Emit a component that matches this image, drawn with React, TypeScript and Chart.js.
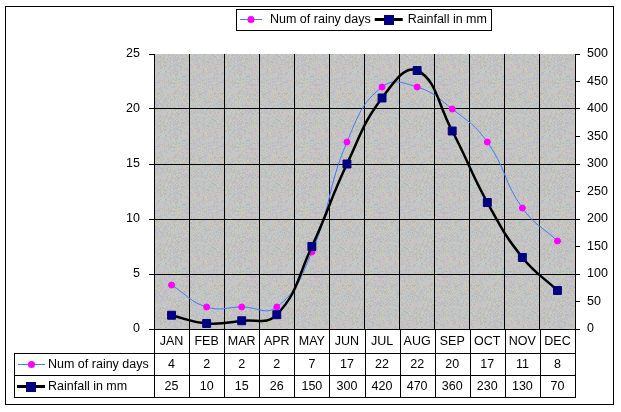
import React, { useEffect, useRef } from 'react';
import { Chart, registerables } from 'chart.js';

Chart.register(...registerables);

// ---- data ----
const months = ['JAN', 'FEB', 'MAR', 'APR', 'MAY', 'JUN', 'JUL', 'AUG', 'SEP', 'OCT', 'NOV', 'DEC'];
const rainyDays = [4, 2, 2, 2, 7, 17, 22, 22, 20, 17, 11, 8];
const rainfallMm = [25, 10, 15, 26, 150, 300, 420, 470, 360, 230, 130, 70];
const rainyLabel = 'Num of rainy days';
const rainfallLabel = 'Rainfall in mm';
const leftAxisMax = 25;
const leftAxisStep = 5;
const rightAxisMax = 500;
const rightAxisStep = 50;

const FONT_FAMILY = '"Liberation Sans", Arial, sans-serif';
const FONT_SIZE = 12.5;
const FONT = FONT_SIZE + 'px ' + FONT_FAMILY;
const BLUE = '#3d7bff';
const MAGENTA = '#ff00ff';
const NAVY = '#000080';

let patternCanvas: HTMLCanvasElement | null = null;
function hash(x: number, y: number) {
  let h = Math.imul(x + 1, 374761393) ^ Math.imul(y + 7, 668265263);
  h = Math.imul(h ^ (h >>> 13), 1274126177);
  h = h ^ (h >>> 16);
  return h >>> 0;
}
function getPatternCanvas() {
  if (patternCanvas) return patternCanvas;
  const S = 64;
  const c = document.createElement('canvas');
  c.width = S;
  c.height = S;
  const g = c.getContext('2d')!;
  const img = g.createImageData(S, S);
  const cols = [
    [206, 186, 204],
    [182, 204, 208],
    [204, 204, 178],
    [186, 186, 186],
  ];
  for (let y = 0; y < S; y++) {
    for (let x = 0; x < S; x++) {
      const col = cols[hash(x, y) % 4];
      const i = (y * S + x) * 4;
      img.data[i] = col[0];
      img.data[i + 1] = col[1];
      img.data[i + 2] = col[2];
      img.data[i + 3] = 255;
    }
  }
  g.putImageData(img, 0, 0);
  patternCanvas = c;
  return c;
}

const al = (v: number) => Math.round(v) + 0.5;

function drawCircleKey(ctx: CanvasRenderingContext2D, x1: number, x2: number, y: number) {
  ctx.strokeStyle = BLUE;
  ctx.lineWidth = 1;
  ctx.beginPath();
  ctx.moveTo(x1, y + 0.5);
  ctx.lineTo(x2, y + 0.5);
  ctx.stroke();
  ctx.fillStyle = MAGENTA;
  ctx.beginPath();
  ctx.arc((x1 + x2) / 2, y + 0.5, 3.5, 0, Math.PI * 2);
  ctx.fill();
}

function drawSquareKey(ctx: CanvasRenderingContext2D, x1: number, x2: number, y: number) {
  ctx.strokeStyle = '#000';
  ctx.lineWidth = 3;
  ctx.beginPath();
  ctx.moveTo(x1, y + 0.5);
  ctx.lineTo(x2, y + 0.5);
  ctx.stroke();
  ctx.fillStyle = NAVY;
  const cx = Math.round((x1 + x2) / 2);
  ctx.fillRect(cx - 5, y - 4, 10, 10);
}

const excelPlugin = {
  id: 'excelLook',
  beforeDraw(chart: any) {
    const { ctx, chartArea: a } = chart;
    ctx.save();
    ctx.fillStyle = '#ffffff';
    ctx.fillRect(0, 0, chart.width, chart.height);
    const pat = ctx.createPattern(getPatternCanvas(), 'repeat');
    ctx.fillStyle = pat || '#c4c2c0';
    ctx.fillRect(a.left, a.top, a.right - a.left, a.bottom - a.top);
    ctx.restore();
  },
  afterDraw(chart: any) {
    const { ctx, chartArea: a } = chart;
    const xs = chart.scales.x;
    const n = months.length;
    const colW = (a.right - a.left) / n;
    const r0 = a.bottom;
    const r1 = r0 + 24;
    const r2 = r1 + 22;
    const r3 = r2 + 22;
    const tableLeft = 14;
    ctx.save();
    // outer border
    ctx.strokeStyle = '#000';
    ctx.lineWidth = 1;
    ctx.strokeRect(5.5, 6.5, 608, 398);

    // table lines
    ctx.beginPath();
    for (let k = 0; k <= n; k++) {
      const x = al(a.left + k * colW);
      ctx.moveTo(x, r0);
      ctx.lineTo(x, r3 + 0.5);
    }
    ctx.moveTo(tableLeft + 0.5, al(r1));
    ctx.lineTo(tableLeft + 0.5, al(r3));
    [r1, r2, r3].forEach((r) => {
      ctx.moveTo(tableLeft, al(r));
      ctx.lineTo(al(a.right) + 0.5, al(r));
    });
    ctx.stroke();

    // table text
    ctx.font = FONT;
    ctx.fillStyle = '#000';
    ctx.textAlign = 'center';
    ctx.textBaseline = 'middle';
    for (let i = 0; i < n; i++) {
      const cx = xs.getPixelForValue(i);
      ctx.fillText(months[i], cx, (r0 + r1) / 2 + 1);
      ctx.fillText(String(rainyDays[i]), cx, (r1 + r2) / 2 + 1);
      ctx.fillText(String(rainfallMm[i]), cx, (r2 + r3) / 2 + 1);
    }
    // row keys
    drawCircleKey(ctx, 18, 45, Math.round((r1 + r2) / 2));
    drawSquareKey(ctx, 17, 45, Math.round((r2 + r3) / 2));
    ctx.fillStyle = '#000';
    ctx.textAlign = 'left';
    ctx.fillText(chart.data.datasets[0].label, 48, (r1 + r2) / 2 + 1);
    ctx.fillText(chart.data.datasets[1].label, 48, (r2 + r3) / 2 + 1);

    // legend
    const t1 = chart.data.datasets[0].label;
    const t2 = chart.data.datasets[1].label;
    const w1 = ctx.measureText(t1).width;
    const w2 = ctx.measureText(t2).width;
    const boxW = 4 + 22 + 8 + w1 + 4 + 28 + 5 + w2 + 4;
    const bx = Math.round(363 - boxW / 2);
    const by = 9;
    const bh = 21;
    ctx.fillStyle = '#fff';
    ctx.fillRect(bx, by, boxW, bh);
    ctx.strokeStyle = '#000';
    ctx.lineWidth = 1;
    ctx.strokeRect(bx + 0.5, by + 0.5, Math.round(boxW), bh);
    const ly = by + 10;
    let cx = bx + 4;
    drawCircleKey(ctx, cx, cx + 22, ly);
    cx += 22 + 8;
    ctx.fillStyle = '#000';
    ctx.textAlign = 'left';
    ctx.fillText(t1, cx, ly + 1);
    cx += w1 + 4;
    drawSquareKey(ctx, cx, cx + 28, ly);
    cx += 28 + 5;
    ctx.fillStyle = '#000';
    ctx.fillText(t2, cx, ly + 1);
    ctx.restore();
  },
};

export default function App() {
  const ref = useRef<HTMLCanvasElement | null>(null);
  useEffect(() => {
    if (!ref.current) return;
    const chart = new Chart(ref.current, {
      type: 'line',
      data: {
        labels: months,
        datasets: [
          {
            label: rainyLabel,
            data: rainyDays,
            yAxisID: 'y',
            borderColor: BLUE,
            borderWidth: 1,
            pointStyle: 'circle',
            pointRadius: 3,
            pointBorderWidth: 1,
            pointBackgroundColor: MAGENTA,
            pointBorderColor: MAGENTA,
            tension: 0.45,
            order: 1,
          },
          {
            label: rainfallLabel,
            data: rainfallMm,
            yAxisID: 'y1',
            borderColor: '#000',
            borderWidth: 2.5,
            pointStyle: 'rect',
            pointRadius: 5.6,
            pointBorderWidth: 1,
            pointBackgroundColor: NAVY,
            pointBorderColor: NAVY,
            tension: 0.45,
            order: 0,
          },
        ],
      },
      options: {
        responsive: false,
        animation: false,
        layout: { padding: { top: 54, bottom: 83, left: 0, right: 0 } },
        plugins: { legend: { display: false }, tooltip: { enabled: false } },
        scales: {
          x: {
            type: 'category',
            offset: true,
            ticks: { display: false },
            grid: { offset: true, color: '#000', drawTicks: false, lineWidth: 1 },
            border: { display: true, color: '#000' },
            afterFit: (s: any) => {
              s.height = 0;
            },
          },
          y: {
            position: 'left',
            min: 0,
            max: leftAxisMax,
            ticks: { stepSize: leftAxisStep, color: '#000', font: { family: FONT_FAMILY, size: FONT_SIZE }, padding: 9 },
            grid: {
              color: (c: any) => (c.tick && c.tick.value === leftAxisMax ? 'rgba(0,0,0,0)' : '#000'),
              tickColor: '#000',
              tickLength: 5,
            },
            border: { display: true, color: '#000' },
            afterFit: (s: any) => {
              s.width = 154;
            },
          },
          y1: {
            position: 'right',
            min: 0,
            max: rightAxisMax,
            ticks: { stepSize: rightAxisStep, color: '#000', font: { family: FONT_FAMILY, size: FONT_SIZE }, padding: 7 },
            grid: { drawOnChartArea: false, color: '#000', tickColor: '#000', tickLength: 5 },
            border: { display: true, color: '#000' },
            afterFit: (s: any) => {
              s.width = 46;
            },
          },
        },
      },
      plugins: [excelPlugin],
    });
    return () => chart.destroy();
  }, []);
  return (
    <div style={{ position: 'fixed', left: 0, top: 0, width: 621, height: 412, background: '#fff' }}>
      <canvas ref={ref} width={621} height={412} style={{ display: 'block', width: 621, height: 412 }} />
    </div>
  );
}
